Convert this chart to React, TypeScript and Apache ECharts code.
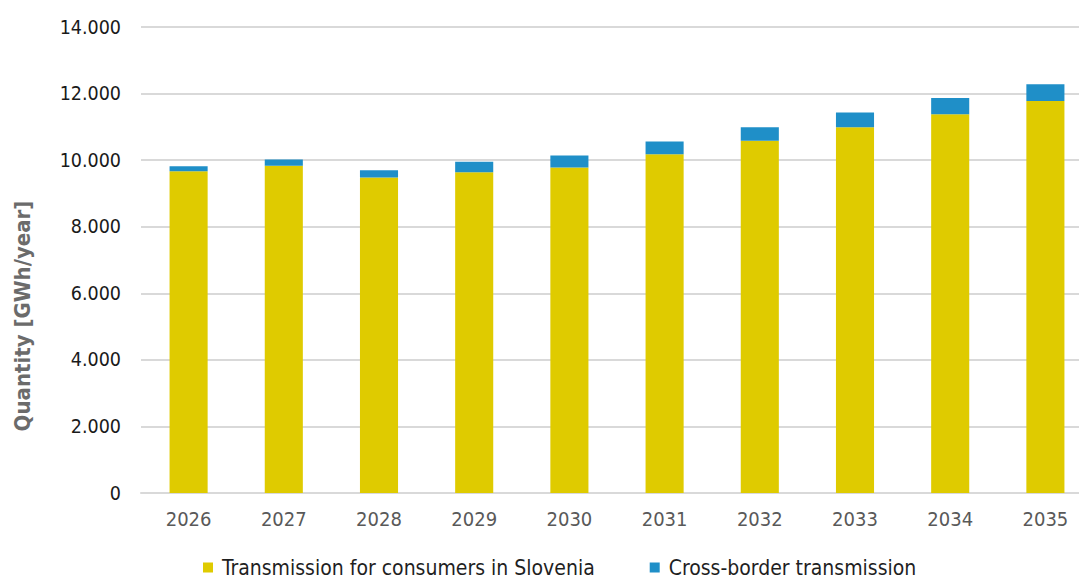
import React, { useEffect, useRef } from "react";
import * as echarts from "echarts";

const years = ["2026", "2027", "2028", "2029", "2030", "2031", "2032", "2033", "2034", "2035"];
const domestic = [9670, 9830, 9480, 9640, 9780, 10180, 10580, 10990, 11380, 11780];
const crossBorder = [150, 190, 220, 310, 360, 380, 410, 440, 490, 500];
const seriesNames = ["Transmission for consumers in Slovenia", "Cross-border transmission"];
const yAxisTitle = "Quantity [GWh/year]";

const fmt = (v: number) => {
  const s = String(Math.round(v));
  return s.replace(/\B(?=(\d{3})+(?!\d))/g, ".");
};

export default function App() {
  const ref = useRef<HTMLDivElement>(null);
  useEffect(() => {
    if (!ref.current) return;
    const chart = echarts.init(ref.current, undefined, { renderer: "svg" });
    chart.setOption({
      animation: false,
      backgroundColor: "#ffffff",
      grid: {
        left: 141,
        top: 27,
        width: 952,
        height: 466,
        containLabel: false,
        outerBoundsMode: "none",
      },
      legend: {
        left: 203,
        top: 557,
        padding: 0,
        itemWidth: 10,
        itemHeight: 10,
        itemGap: 55,
        icon: "rect",
        textStyle: {
          fontFamily: "DejaVu Sans Condensed",
          fontSize: 21,
          lineHeight: 21,
          color: "#1f1f1f",
          padding: [0, 0, 0, 4],
        },
        data: seriesNames,
      },
      xAxis: {
        type: "category",
        data: years,
        axisLine: { lineStyle: { color: "#d9d9d9", width: 2 } },
        axisTick: { show: false },
        axisLabel: {
          fontFamily: "DejaVu Sans Condensed",
          fontSize: 20,
          color: "#595959",
          margin: 16,
        },
      },
      yAxis: {
        type: "value",
        min: 0,
        max: 14000,
        interval: 2000,
        axisLine: { show: false },
        axisTick: { show: false },
        splitLine: { lineStyle: { color: "#d9d9d9", width: 2 } },
        axisLabel: {
          fontFamily: "DejaVu Sans Condensed",
          fontSize: 19.5,
          color: "#1a1a1a",
          margin: 20,
          formatter: fmt,
        },
      },
      graphic: [
        {
          type: "text",
          x: 22,
          y: 316,
          rotation: Math.PI / 2,
          style: {
            text: yAxisTitle,
            fontFamily: "DejaVu Sans Condensed",
            fontWeight: "bold",
            fontSize: 22,
            fill: "#6b6b6b",
            align: "center",
            verticalAlign: "middle",
          },
        },
      ],
      series: [
        {
          name: seriesNames[0],
          type: "bar",
          stack: "total",
          barWidth: "40%",
          data: domestic,
          itemStyle: { color: "#dfcb00" },
        },
        {
          name: seriesNames[1],
          type: "bar",
          stack: "total",
          barWidth: "40%",
          data: crossBorder,
          itemStyle: { color: "#1f8fc8" },
        },
      ],
    });
    return () => chart.dispose();
  }, []);
  return (
    <div
      ref={ref}
      style={{ position: "fixed", left: 0, top: 0, width: 1079, height: 578, overflow: "hidden" }}
    />
  );
}
